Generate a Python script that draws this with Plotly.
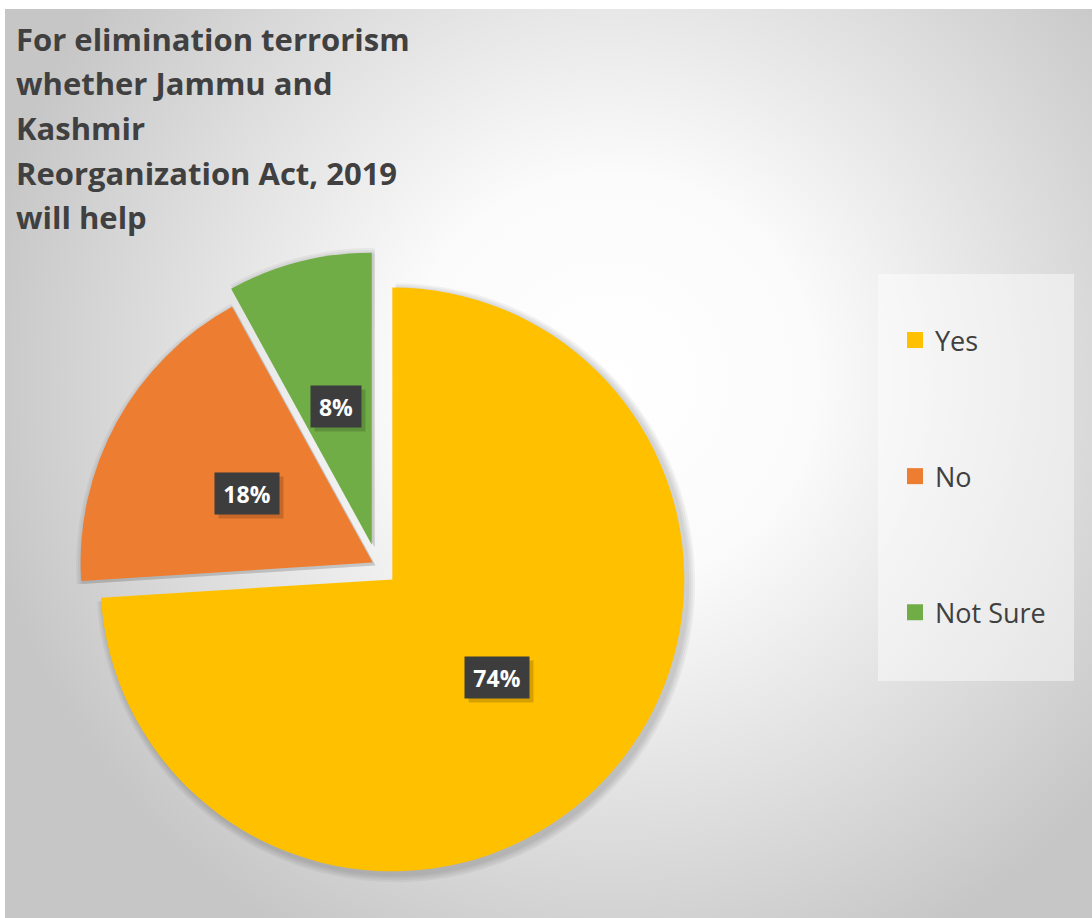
import base64
import math
import plotly.graph_objects as go

# Survey answers (percent of respondents)
categories = ["Yes", "No", "Not Sure"]
values = [74, 18, 8]
slice_colors = ["#FFC000", "#ED7D31", "#70AD47"]
explode = [0.072, 0.017, 0.072]

title_lines = [
    "For elimination terrorism",
    "whether Jammu and",
    "Kashmir",
    "Reorganization Act, 2019",
    "will help",
]

W, H = 1092, 918
FONT = "Open Sans"
TEXT_DARK = "#404040"

# pie domain (paper fractions)
dom_x = [64 / W, 690 / W]
dom_y = [40 / H, 666 / H]

# radial grey-to-white chart area background
bg_svg = f"""<svg xmlns='http://www.w3.org/2000/svg' width='{W}' height='{H}'>
<defs><radialGradient id='g' gradientUnits='userSpaceOnUse' cx='610' cy='380' r='640'>
<stop offset='0' stop-color='#ffffff'/><stop offset='0.32' stop-color='#fbfbfb'/>
<stop offset='1' stop-color='#c6c6c6'/></radialGradient></defs>
<rect width='{W}' height='{H}' fill='#ffffff'/>
<rect x='5' y='9' width='{W - 5}' height='{H - 9}' fill='url(#g)'/>
</svg>"""
bg_uri = "data:image/svg+xml;base64," + base64.b64encode(bg_svg.encode()).decode()

fig = go.Figure()

# soft drop shadow under the slices: a few faint, slightly larger copies
for k in range(1, 5):
    grow = 2 * k
    fig.add_trace(go.Pie(
        labels=categories, values=values, sort=False, direction="clockwise",
        rotation=0, pull=explode, textinfo="none", hoverinfo="skip",
        showlegend=False,
        marker=dict(colors=["rgba(0,0,0,0.045)"] * len(values), line=dict(width=0)),
        domain=dict(x=[dom_x[0] - (grow - 3) / W, dom_x[1] + (grow + 3) / W],
                    y=[dom_y[0] - (grow + 3) / H, dom_y[1] + (grow - 3) / H]),
    ))

fig.add_trace(go.Pie(
    labels=categories, values=values, sort=False, direction="clockwise",
    rotation=0, pull=explode, textinfo="none", showlegend=False,
    marker=dict(colors=slice_colors, line=dict(width=0)),
    domain=dict(x=dom_x, y=dom_y),
))

# legend entries (one group per category so they can be spaced apart)
for name, col in zip(categories, slice_colors):
    fig.add_trace(go.Scatter(
        x=[None], y=[None], mode="markers", name=name, legendgroup=name,
        marker=dict(symbol="square", size=16, color=col, line=dict(width=0)),
    ))

# percentage labels in dark boxes, placed along each slice's bisector
total = sum(values)
cx = (dom_x[0] + dom_x[1]) / 2
cy = (dom_y[0] + dom_y[1]) / 2
r_px = min(W * (dom_x[1] - dom_x[0]), H * (dom_y[1] - dom_y[0])) / 2 / (1 + max(explode))
annotations = []
cum = 0
for v, p in zip(values, explode):
    mid = math.radians((cum + v / 2) / total * 360)
    cum += v
    dist = r_px * (p + 0.49)
    ax = cx + dist * math.sin(mid) / W
    ay = cy + dist * math.cos(mid) / H
    label = f"{v / total * 100:.0f}%"
    common = dict(x=ax, y=ay, xref="paper", yref="paper", showarrow=False,
                  xanchor="center", yanchor="middle", borderpad=8,
                  width=14 * len(label) + 6, height=25)
    # box shadow (empty box, offset down-right)
    annotations.append(dict(
        common, text="&#160;", xshift=4, yshift=-4,
        bgcolor="rgba(0,0,0,0.16)",
        font=dict(family=FONT, size=23, color="rgba(0,0,0,0)"),
    ))
    annotations.append(dict(
        common, text=f"<b>{label}</b>", bgcolor="#3d3d3d",
        font=dict(family=FONT, size=23, color="#ffffff"),
    ))

# chart title, one line per annotation
for i, line in enumerate(title_lines):
    annotations.append(dict(
        x=14 / W, y=1 - (39 + 44.5 * i) / H, xref="paper", yref="paper",
        xanchor="left", yanchor="middle", showarrow=False,
        text=f"<b>{line}</b>",
        font=dict(family=FONT, size=31, color=TEXT_DARK),
    ))

fig.update_layout(
    width=W, height=H,
    margin=dict(l=0, r=0, t=0, b=0),
    paper_bgcolor="#ffffff", plot_bgcolor="rgba(0,0,0,0)",
    xaxis=dict(visible=False), yaxis=dict(visible=False),
    images=[dict(source=bg_uri, xref="paper", yref="paper", x=0, y=1,
                 sizex=1, sizey=1, xanchor="left", yanchor="top",
                 sizing="stretch", layer="below")],
    shapes=[dict(type="rect", xref="paper", yref="paper",
                 x0=878 / W, x1=1074 / W, y0=1 - 681 / H, y1=1 - 274 / H,
                 fillcolor="rgba(255,255,255,0.45)", line=dict(width=0),
                 layer="below")],
    legend=dict(x=895 / W, y=1 - 316 / H, xanchor="left", yanchor="top",
                bgcolor="rgba(0,0,0,0)", tracegroupgap=98,
                font=dict(family=FONT, size=27, color=TEXT_DARK)),
    annotations=annotations,
    showlegend=True,
)

fig.write_html("out.html")
